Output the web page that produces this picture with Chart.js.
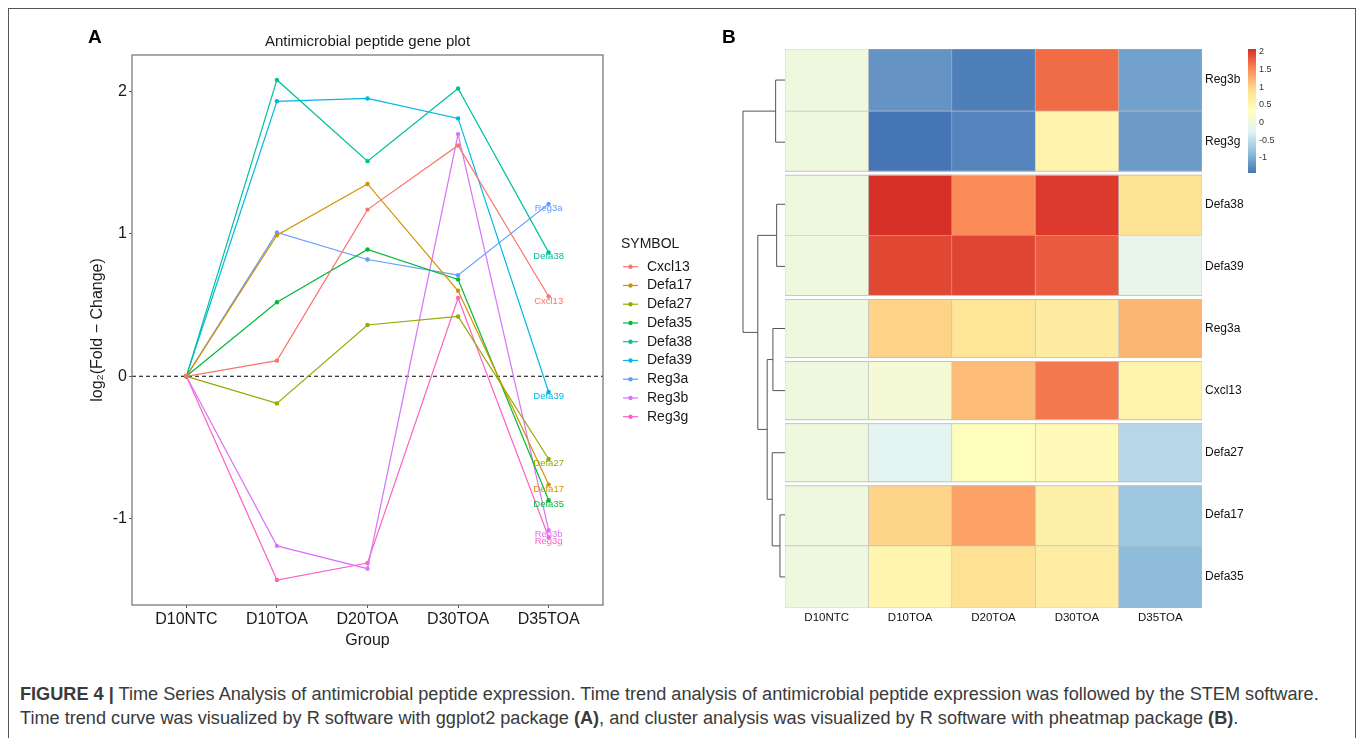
<!DOCTYPE html>
<html>
<head>
<meta charset="utf-8">
<script src="https://cdn.jsdelivr.net/npm/chart.js@4.4.1/dist/chart.umd.min.js"></script>
<style>
  body { margin: 0; background: #fff; width: 1357px; height: 738px; overflow: hidden; position: relative; font-family: "Liberation Sans", Arial, sans-serif; }
  .frame { position: absolute; left: 8px; top: 8px; width: 1346px; height: 800px; border: 1px solid #555; }
  #boxA { position: absolute; left: 0; top: 0; width: 700px; height: 660px; }
  #boxB { position: absolute; left: 700px; top: 0; width: 650px; height: 660px; }
  .tag { position: absolute; font-weight: bold; font-size: 19px; color: #000; }
  .caption { position: absolute; left: 20px; white-space: nowrap; color: #3a3a3a; font-size: 17px; line-height: 20px; }
</style>
</head>
<body>
<div class="frame"></div>
<div id="boxA"><canvas id="lineA" width="700" height="660"></canvas></div>
<div id="boxB"><canvas id="heatB" width="650" height="660"></canvas></div>
<div class="tag" style="left:88px; top:26px;">A</div>
<div class="tag" style="left:722px; top:26px;">B</div>
<div class="caption" id="cap1" style="top:684px;"><b>FIGURE 4 |</b> Time Series Analysis of antimicrobial peptide expression. Time trend analysis of antimicrobial peptide expression was followed by the STEM software.</div>
<div class="caption" id="cap2" style="top:708px;">Time trend curve was visualized by R software with ggplot2 package <b>(A)</b>, and cluster analysis was visualized by R software with pheatmap package <b>(B)</b>.</div>
<script>
// data (log2 fold change per group)
const groups = ['D10NTC', 'D10TOA', 'D20TOA', 'D30TOA', 'D35TOA'];
const genes = ['Cxcl13', 'Defa17', 'Defa27', 'Defa35', 'Defa38', 'Defa39', 'Reg3a', 'Reg3b', 'Reg3g'];
const cxcl13 = [0, 0.11, 1.17, 1.62, 0.56];
const defa17 = [0, 0.99, 1.35, 0.60, -0.76];
const defa27 = [0, -0.19, 0.36, 0.42, -0.58];
const defa35 = [0, 0.52, 0.89, 0.68, -0.87];
const defa38 = [0, 2.08, 1.51, 2.02, 0.87];
const defa39 = [0, 1.93, 1.95, 1.81, -0.11];
const reg3a = [0, 1.01, 0.82, 0.71, 1.21];
const reg3b = [0, -1.19, -1.35, 1.70, -1.08];
const reg3g = [0, -1.43, -1.31, 0.55, -1.13];
const yTicks = [-1, 0, 1, 2];

// heatmap row order, cluster sizes (gaps) and dendrogram
const heatRows = ['Reg3b', 'Reg3g', 'Defa38', 'Defa39', 'Reg3a', 'Cxcl13', 'Defa27', 'Defa17', 'Defa35'];
const clusterSizes = [2, 2, 1, 1, 1, 2];
const colorbarTicks = [-1, -0.5, 0, 0.5, 1, 1.5, 2];
const dendro = { h: 41.7, l: { h: 9.3, l: 'Reg3b', r: 'Reg3g' },
  r: { h: 27, l: { h: 8.3, l: 'Defa38', r: 'Defa39' },
    r: { h: 17.7, l: { h: 12, l: 'Reg3a', r: 'Cxcl13' },
      r: { h: 12.7, l: 'Defa27', r: { h: 5, l: 'Defa17', r: 'Defa35' } } } } };

const series = { Cxcl13: cxcl13, Defa17: defa17, Defa27: defa27, Defa35: defa35, Defa38: defa38,
  Defa39: defa39, Reg3a: reg3a, Reg3b: reg3b, Reg3g: reg3g };
const geneColors = ['#F8766D', '#D39200', '#93AA00', '#00BA38', '#00C19F', '#00B9E3', '#619CFF', '#DB72FB', '#FF61C3'];
const FONT = '"Liberation Sans", Arial, sans-serif';

// ---------- panel A ----------
const panelA = {
  id: 'panelA',
  beforeDatasetsDraw(chart) {
    const { ctx, chartArea: a, scales: { y } } = chart;
    const y0 = y.getPixelForValue(0);
    ctx.save();
    ctx.strokeStyle = '#000'; ctx.lineWidth = 1.1; ctx.setLineDash([4, 3]);
    ctx.beginPath(); ctx.moveTo(a.left, y0); ctx.lineTo(a.right, y0); ctx.stroke();
    ctx.restore();
  },
  afterDatasetsDraw(chart) {
    const { ctx } = chart;
    ctx.save();
    ctx.font = '9.5px ' + FONT; ctx.textAlign = 'center'; ctx.textBaseline = 'middle';
    chart.data.datasets.forEach((ds, i) => {
      const pts = chart.getDatasetMeta(i).data;
      const p = pts[pts.length - 1];
      ctx.fillStyle = ds.borderColor;
      ctx.fillText(ds.label, p.x, p.y + 4.5);
    });
    ctx.restore();
  },
  afterDraw(chart) {
    const { ctx, chartArea: a } = chart;
    ctx.save();
    ctx.strokeStyle = '#7a7a7a'; ctx.lineWidth = 1.3;
    ctx.strokeRect(a.left, a.top, a.right - a.left, a.bottom - a.top);
    ctx.fillStyle = '#1a1a1a'; ctx.font = '15px ' + FONT; ctx.textAlign = 'center'; ctx.textBaseline = 'middle';
    ctx.fillText('Antimicrobial peptide gene plot', (a.left + a.right) / 2, 42);
    // legend
    ctx.textAlign = 'left'; ctx.font = '14px ' + FONT;
    ctx.fillText('SYMBOL', 621, 244);
    chart.data.datasets.forEach((ds, i) => {
      const yy = 266.7 + i * 18.75;
      ctx.strokeStyle = ds.borderColor; ctx.fillStyle = ds.borderColor; ctx.lineWidth = 1.2;
      ctx.beginPath(); ctx.moveTo(623, yy); ctx.lineTo(638, yy); ctx.stroke();
      ctx.beginPath(); ctx.arc(630.5, yy, 2.2, 0, Math.PI * 2); ctx.fill();
      ctx.fillStyle = '#1a1a1a';
      ctx.fillText(ds.label, 647, yy);
    });
    ctx.restore();
  }
};

new Chart(document.getElementById('lineA'), {
  type: 'line',
  data: {
    datasets: genes.map((g, i) => ({
      label: g,
      data: series[g].map((v, j) => ({ x: j, y: v })),
      borderColor: geneColors[i],
      backgroundColor: geneColors[i],
      borderWidth: 1.2,
      pointRadius: 2.2,
      pointBorderWidth: 0,
      tension: 0
    }))
  },
  options: {
    responsive: false,
    animation: false,
    events: [],
    layout: { padding: { left: 84, top: 55, right: 97, bottom: 10 } },
    plugins: { legend: { display: false }, tooltip: { enabled: false } },
    scales: {
      x: {
        type: 'linear', min: -0.6, max: 4.6,
        afterBuildTicks: s => { s.ticks = groups.map((g, i) => ({ value: i })); },
        afterFit: s => { s.height = 45; },
        ticks: { callback: v => groups[v], font: { size: 16, family: FONT }, color: '#1a1a1a', padding: 2, maxRotation: 0, autoSkip: false },
        grid: { drawOnChartArea: false, tickLength: 3, color: '#555' },
        border: { display: false },
        title: { display: true, text: 'Group', font: { size: 16, family: FONT }, color: '#1a1a1a', padding: { top: 0, bottom: 0 } }
      },
      y: {
        min: -1.605, max: 2.255,
        afterBuildTicks: s => { s.ticks = yTicks.map(v => ({ value: v })); },
        afterFit: s => { s.width = 48; },
        ticks: { font: { size: 16, family: FONT }, color: '#1a1a1a', padding: 2 },
        grid: { drawOnChartArea: false, tickLength: 3, color: '#555' },
        border: { display: false },
        title: { display: true, text: 'log\u2082(Fold \u2212 Change)', font: { size: 16, family: FONT }, color: '#1a1a1a', padding: { top: 4, bottom: 0 } }
      }
    }
  },
  plugins: [panelA]
});

// ---------- panel B ----------
const allVals = heatRows.flatMap(r => series[r]);
const vMin = Math.min(...allVals), vMax = Math.max(...allVals);
const palette = ['#4575B4', '#91BFDB', '#E0F3F8', '#FFFFBF', '#FEE090', '#FC8D59', '#D73027'];
function hexRgb(h) { return [1, 3, 5].map(k => parseInt(h.slice(k, k + 2), 16)); }
function heatColor(v) {
  const t = Math.max(0, Math.min(1, (v - vMin) / (vMax - vMin))) * (palette.length - 1);
  const k = Math.min(Math.floor(t), palette.length - 2), f = t - k;
  const a = hexRgb(palette[k]), b = hexRgb(palette[k + 1]);
  return 'rgb(' + a.map((c, n) => Math.round(c + (b[n] - c) * f)).join(',') + ')';
}

const panelB = {
  id: 'panelB',
  afterDatasetsDraw(chart) {
    const { ctx, chartArea: a, scales: { y } } = chart;
    ctx.save();
    let idx = 0;
    clusterSizes.slice(0, -1).forEach(n => {
      idx += n;
      const yy = (y.getPixelForValue(idx - 1) + y.getPixelForValue(idx)) / 2;
      ctx.fillStyle = '#fff';
      ctx.fillRect(a.left - 1, yy - 1.6, a.right - a.left + 2, 3.2);
      ctx.strokeStyle = '#c4c4c4'; ctx.lineWidth = 1;
      ctx.beginPath();
      ctx.moveTo(a.left, yy - 2); ctx.lineTo(a.right, yy - 2);
      ctx.moveTo(a.left, yy + 2); ctx.lineTo(a.right, yy + 2);
      ctx.stroke();
    });
    ctx.restore();
  },
  afterDraw(chart) {
    const { ctx, chartArea: a, scales: { y } } = chart;
    ctx.save();
    // dendrogram
    const k = 42 / dendro.h;
    ctx.strokeStyle = '#555'; ctx.lineWidth = 1;
    function walk(node) {
      if (typeof node === 'string') return { x: a.left, y: y.getPixelForValue(heatRows.indexOf(node)) };
      const l = walk(node.l), r = walk(node.r);
      const x = a.left - node.h * k;
      ctx.beginPath();
      ctx.moveTo(l.x, l.y); ctx.lineTo(x, l.y); ctx.lineTo(x, r.y); ctx.lineTo(r.x, r.y);
      ctx.stroke();
      return { x, y: (l.y + r.y) / 2 };
    }
    walk(dendro);
    // colour bar
    const top = 49, bot = 173, bx = 548, bw = 8;
    const g = ctx.createLinearGradient(0, bot, 0, top);
    palette.forEach((c, i) => g.addColorStop(i / (palette.length - 1), c));
    ctx.fillStyle = g;
    ctx.fillRect(bx, top, bw, bot - top);
    ctx.fillStyle = '#333'; ctx.font = '9px ' + FONT; ctx.textAlign = 'left'; ctx.textBaseline = 'middle';
    colorbarTicks.forEach(v => {
      const yy = bot - (v - vMin) / (vMax - vMin) * (bot - top);
      ctx.fillText(String(v), bx + bw + 3, yy);
    });
    ctx.restore();
  }
};

new Chart(document.getElementById('heatB'), {
  type: 'bar',
  data: {
    labels: heatRows,
    datasets: groups.map((g, j) => ({
      label: g,
      data: heatRows.map(() => 1),
      backgroundColor: heatRows.map(r => heatColor(series[r][j])),
      borderColor: '#bcbcbc',
      borderWidth: 0.6,
      borderSkipped: false,
      barPercentage: 1,
      categoryPercentage: 1
    }))
  },
  options: {
    indexAxis: 'y',
    responsive: false,
    animation: false,
    events: [],
    layout: { padding: { left: 85, top: 49, right: 0, bottom: 22 } },
    plugins: { legend: { display: false }, tooltip: { enabled: false } },
    scales: {
      x: {
        stacked: true, min: 0, max: groups.length,
        afterBuildTicks: s => { s.ticks = groups.map((g, i) => ({ value: i + 0.5 })); },
        afterFit: s => { s.height = 30; },
        ticks: { callback: v => groups[Math.floor(v)], font: { size: 11.5, family: FONT }, color: '#111', padding: 3, maxRotation: 0, autoSkip: false },
        grid: { display: false, drawTicks: false },
        border: { display: false }
      },
      y: {
        stacked: true, position: 'right',
        afterFit: s => { s.width = 148; },
        ticks: { font: { size: 12, family: FONT }, color: '#111', padding: 3 },
        grid: { display: false, drawTicks: false },
        border: { display: false }
      }
    }
  },
  plugins: [panelB]
});

// fit caption to the printed line width
const cap1 = document.getElementById('cap1'), cap2 = document.getElementById('cap2');
const w1 = cap1.getBoundingClientRect().width;
const fs = 17 * 1300 / w1;
cap1.style.fontSize = fs + 'px';
cap2.style.fontSize = fs + 'px';
</script>
</body>
</html>
